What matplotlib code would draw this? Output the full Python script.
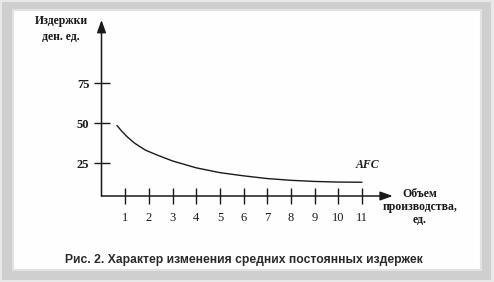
import matplotlib
matplotlib.use('Agg')
import matplotlib.pyplot as plt
from matplotlib.patches import Rectangle

# Данные кривой AFC
objem = [0.65, 0.85, 1.1, 1.4, 1.85, 2.4, 3, 4, 5, 6, 7, 8, 9, 10, 11]
afc = [48.5, 45.0, 41.2, 37.4, 33.1, 29.7, 26.3, 22.0, 19.0, 17.0, 15.3, 14.2, 13.5, 13.1, 13.0]

x_ticks = [1, 2, 3, 4, 5, 6, 7, 8, 9, 10, 11]
y_ticks = [25, 50, 75]

W, H = 494, 282

def fx(px):
    return px / W

def fy(py):
    return 1 - py / H

fig = plt.figure(figsize=(W / 100, H / 100), dpi=100)
fig.patch.set_facecolor('#e8e8e8')

# Серая рамка и белое поле (под осями)
fig.patches.append(Rectangle((fx(2), fy(280)), fx(489), 278 / H, transform=fig.transFigure,
                             facecolor='#cfcfcf', edgecolor='none', zorder=-3))
fig.patches.append(Rectangle((fx(13), fy(270)), fx(468), 260 / H, transform=fig.transFigure,
                             facecolor='#fefefe', edgecolor='#e2e2e2', linewidth=1.5, zorder=-2))

# Оси: x=0 -> 101.5px, 23.68 px на единицу; y=4.4 -> 196px, 1.6 px на единицу
x0, y0 = 101.5, 196
ax = fig.add_axes([fx(x0), fy(y0), 12.3 * 23.68 / W, 176 / H])
ax.set_xlim(0, 12.3)
ax.set_ylim(4.4, 114.4)
ax.patch.set_alpha(0)
for s in ax.spines.values():
    s.set_visible(False)

serif = 'Liberation Serif'
ink = '#1a1a1a'

# Стрелки осей
ax.annotate('', xy=(12.3, 4.4), xytext=(0, 4.4),
            arrowprops=dict(arrowstyle='-|>,head_length=0.75,head_width=0.27', color=ink, lw=1.1,
                            shrinkA=0, shrinkB=0))
ax.annotate('', xy=(0, 114.4), xytext=(0, 4.4),
            arrowprops=dict(arrowstyle='-|>,head_length=0.75,head_width=0.27', color=ink, lw=1.1,
                            shrinkA=0, shrinkB=0))

ax.set_xticks(x_ticks)
ax.set_xticklabels([str(v) for v in x_ticks], fontfamily=serif, fontsize=9, color=ink)
ax.set_yticks(y_ticks)
ax.set_yticklabels([str(v) for v in y_ticks], fontfamily=serif, fontsize=9,
                   fontweight='bold', color=ink)
ax.tick_params(axis='x', direction='inout', length=11.5, width=1.0, color=ink, pad=6)
ax.tick_params(axis='y', direction='inout', length=11.5, width=1.0, color=ink, pad=3)

# Кривая AFC
ax.plot(objem, afc, color=ink, lw=1.0, solid_capstyle='round', solid_joinstyle='round')
ax.text(11.25, 23.8, 'AFC', fontfamily=serif, fontstyle='italic', fontweight='bold',
        fontsize=8.5, color=ink, ha='center', va='center')

# Подписи осей
fig.text(fx(61), fy(29), 'Издержки\nден. ед.', fontfamily=serif, fontsize=8.5, fontweight='bold',
         color=ink, ha='center', va='center', linespacing=1.4)
fig.text(fx(420), fy(207), 'Объем\nпроизводства,\nед.', fontfamily=serif, fontsize=8.5,
         fontweight='bold', color=ink, ha='center', va='center', linespacing=1.15)

# Подпись рисунка
fig.text(fx(244), fy(260), 'Рис. 2. Характер изменения средних постоянных издержек',
         fontfamily='Liberation Sans', fontsize=8.75, fontweight='bold', color='#2a2a2a',
         ha='center', va='center')

fig.savefig('out.png', dpi=100, facecolor=fig.get_facecolor())
